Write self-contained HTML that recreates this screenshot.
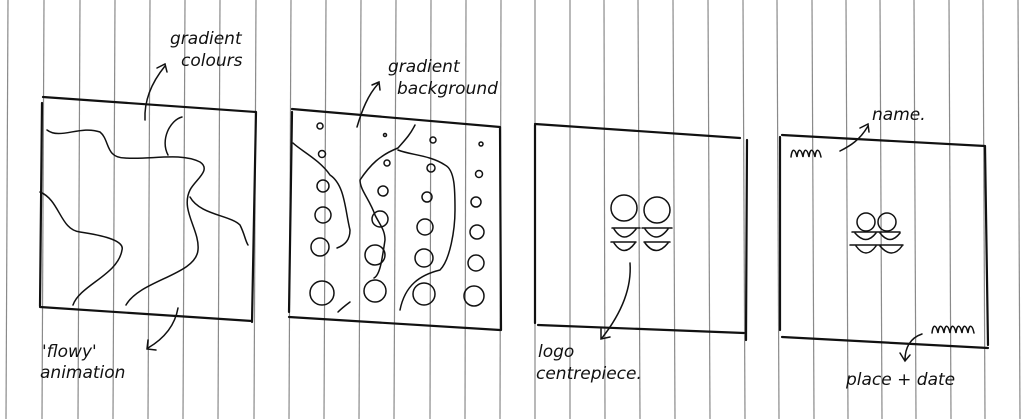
<!DOCTYPE html>
<html><head><style>
html,body{margin:0;padding:0;background:#fff;}
svg{display:block}
text{font-family:"DejaVu Sans","Liberation Sans",sans-serif;fill:#111;font-size:17px;}
</style></head><body>
<svg width="1023" height="419" viewBox="0 0 1023 419" xmlns="http://www.w3.org/2000/svg">
<rect width="1023" height="419" fill="#fff"/>
<g stroke="#8a8a8a" stroke-width="1.2">
<line x1="8" y1="0" x2="6" y2="419"/>
<line x1="44" y1="0" x2="42" y2="419"/>
<line x1="80" y1="0" x2="78" y2="419"/>
<line x1="115" y1="0" x2="113" y2="419"/>
<line x1="150" y1="0" x2="148" y2="419"/>
<line x1="185" y1="0" x2="183" y2="419"/>
<line x1="220" y1="0" x2="218" y2="419"/>
<line x1="256" y1="0" x2="254" y2="419"/>
<line x1="291" y1="0" x2="289" y2="419"/>
<line x1="326" y1="0" x2="324" y2="419"/>
<line x1="361" y1="0" x2="359" y2="419"/>
<line x1="396" y1="0" x2="394" y2="419"/>
<line x1="431" y1="0" x2="430" y2="419"/>
<line x1="466" y1="0" x2="465" y2="419"/>
<line x1="501" y1="0" x2="500" y2="419"/>
<line x1="535" y1="0" x2="535" y2="419"/>
<line x1="570" y1="0" x2="570" y2="419"/>
<line x1="604" y1="0" x2="605" y2="419"/>
<line x1="638" y1="0" x2="640" y2="419"/>
<line x1="673" y1="0" x2="675" y2="419"/>
<line x1="708" y1="0" x2="710" y2="419"/>
<line x1="743" y1="0" x2="745" y2="419"/>
<line x1="777" y1="0" x2="779" y2="419"/>
<line x1="812" y1="0" x2="814" y2="419"/>
<line x1="846" y1="0" x2="848" y2="419"/>
<line x1="880" y1="0" x2="882" y2="419"/>
<line x1="914" y1="0" x2="916" y2="419"/>
<line x1="949" y1="0" x2="951" y2="419"/>
<line x1="983" y1="0" x2="985" y2="419"/>
<line x1="1018" y1="0" x2="1020" y2="419"/>
</g>
<g stroke="#111" stroke-width="2.2" fill="none" stroke-linecap="round" stroke-linejoin="round">
<!-- box1 -->
<path d="M43 97 L256 112 L252 322 M42 103 L40 306 M40 307 L252 321"/>
<!-- box2 -->
<path d="M292 109 L500 127 L501 330 M292 112 L289 312 M289 317 L500 330"/>
<!-- box3 -->
<path d="M25 0" />
<path d="M535 124 L740 138 M535 125 L535 323 M538 325 L744 333 M747 140 L746 340"/>
<!-- box4 -->
<path d="M782 135 L985 146 L988 345 M780 137 L780 330 M782 337 L988 348"/>
</g>
<g stroke="#111" stroke-width="1.5" fill="none" stroke-linecap="round">
<!-- box1 waves -->
<path d="M47 130 C60 140 80 125 100 132 C110 140 105 158 125 158 C150 160 180 152 200 162 C212 170 195 180 190 190 C180 210 200 230 198 250 C196 275 140 280 126 305"/>
<path d="M182 117 C170 120 160 140 168 155"/>
<path d="M40 192 C60 200 60 230 80 232 C100 235 125 240 122 250 C118 275 80 285 73 305"/>
<path d="M190 197 C200 215 230 215 240 225 C245 235 245 240 248 245"/>
<!-- box2 waves -->
<path d="M293 143 C300 150 320 160 330 175 C345 185 345 210 350 230 C350 240 345 245 337 248"/>
<path d="M415 125 C410 135 405 140 398 148 C380 155 370 165 360 180 C360 190 370 200 375 215 C380 225 385 230 385 240 C382 260 380 275 374 278"/>
<path d="M398 150 C410 155 430 155 445 165 C455 170 455 190 455 210 C455 230 450 260 440 270 C420 275 405 285 400 310"/>
<path d="M338 312 C342 308 346 305 350 302"/>
<!-- box2 circles -->
<circle cx="320" cy="126" r="3"/><circle cx="322" cy="154" r="3.5"/><circle cx="323" cy="186" r="6"/>
<circle cx="323" cy="215" r="8"/><circle cx="320" cy="247" r="9"/><circle cx="322" cy="293" r="12"/>
<circle cx="385" cy="135" r="1.5"/><circle cx="387" cy="163" r="3"/><circle cx="383" cy="191" r="5"/>
<circle cx="380" cy="219" r="8"/><circle cx="375" cy="255" r="10"/><circle cx="375" cy="291" r="11"/>
<circle cx="433" cy="140" r="3"/><circle cx="431" cy="168" r="4"/><circle cx="427" cy="197" r="5"/>
<circle cx="425" cy="227" r="8"/><circle cx="424" cy="258" r="9"/><circle cx="424" cy="294" r="11"/>
<circle cx="481" cy="144" r="2"/><circle cx="479" cy="174" r="3.5"/><circle cx="476" cy="202" r="5"/>
<circle cx="477" cy="232" r="7"/><circle cx="476" cy="263" r="8"/><circle cx="474" cy="296" r="10"/>
<!-- box3 logo -->
<circle cx="624" cy="208" r="13"/><circle cx="657" cy="210" r="13"/>
<path d="M612 228 L640 228 M611 242 L636 242 M642 228 L672 228 M644 242 L670 242"/>
<path d="M614 229 Q624 245 636 229 M614 243 Q624 258 635 243 M645 229 Q656 245 668 229 M645 243 Q656 258 668 243"/>
<!-- box4 logo -->
<circle cx="866" cy="222" r="9"/><circle cx="887" cy="222" r="9"/>
<path d="M852 232 L880 232 M850 245 L880 245 M876 232 L900 232 M877 245 L903 245"/>
<path d="M855 233 Q866 246 876 233 M856 246 Q866 260 876 246 M880 233 Q890 246 900 233 M880 246 Q892 260 902 246"/>
<!-- arrows -->
<path d="M145 120 C144 100 152 82 165 66 M157 68 L165 64 L167 72"/>
<path d="M178 308 C175 325 165 338 148 348 M148 340 L147 349 L156 350"/>
<path d="M357 127 C362 110 368 95 378 84 M372 85 L379 82 L380 90"/>
<path d="M630 263 C632 290 620 315 602 338 M601 329 L601 339 L610 337"/>
<path d="M840 151 C850 146 860 140 868 126 M860 128 L868 124 L869 132"/>
<path d="M922 334 C910 338 905 348 905 360 M900 353 L905 361 L910 355"/>
<!-- squiggles www -->
<path d="M791 157 C792 148 795 148 797 157 C798 148 801 148 803 157 C804 148 807 148 809 157 C810 148 813 148 815 157 C816 148 819 148 821 157"/>
<path d="M932 333 C933 324 936 324 938 333 C939 324 942 324 944 333 C945 324 948 324 950 333 C951 324 954 324 956 333 C957 324 960 324 962 333 C963 324 966 324 968 333 C969 324 972 324 974 333"/>
</g>
<g font-style="italic">
<text x="170" y="44" font-size="17">gradient</text>
<text x="181" y="66" font-size="17">colours</text>
<text x="388" y="72" font-size="17">gradient</text>
<text x="397" y="94" font-size="17">background</text>
<text x="42" y="357" font-size="17">'flowy'</text>
<text x="40" y="378" font-size="17">animation</text>
<text x="538" y="357" font-size="16">logo</text>
<text x="536" y="379" font-size="16">centrepiece.</text>
<text x="872" y="120" font-size="16">name.</text>
<text x="846" y="385" font-size="17">place + date</text>
</g>
</svg>
</body></html>
